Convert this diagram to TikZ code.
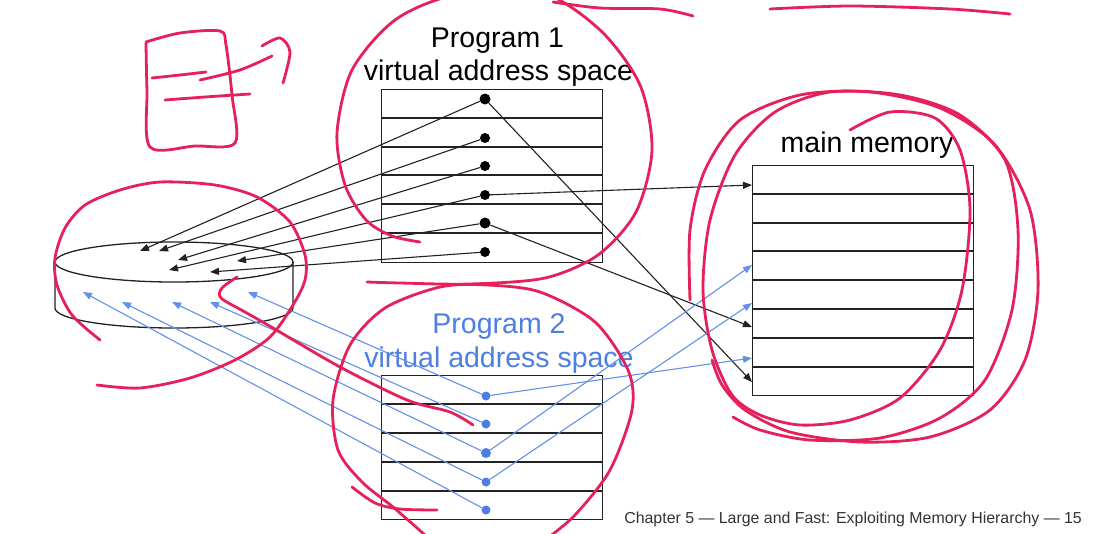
\documentclass[tikz,border=0pt]{standalone}
\usepackage{fontspec}
\setmainfont{Liberation Sans}
\usetikzlibrary{arrows.meta}
\definecolor{ink}{HTML}{222222}
\definecolor{progblue}{HTML}{4D7FE3}
\definecolor{linkblue}{HTML}{6391EA}
\definecolor{redink}{HTML}{E5205A}
\definecolor{foot}{HTML}{333333}

\begin{document}
\begin{tikzpicture}[x=1pt,y=-1pt,
  box/.style={draw=ink, line width=1.3pt, inner sep=0pt, anchor=north west},
  rowline/.style={draw=ink, line width=1.3pt},
  dotb/.style={circle, fill=black, inner sep=0pt, minimum size=10pt},
  dotu/.style={circle, fill=progblue, inner sep=0pt, minimum size=9pt},
  blk/.style={draw=ink, line width=1.1pt, -{Triangle[length=9pt,width=7pt]}},
  blu/.style={draw=linkblue, line width=1.1pt, -{Triangle[length=9pt,width=7pt]}},
  title/.style={font=\fontsize{28.5}{30}\selectfont, anchor=base, inner sep=0pt},
  scribble/.style={draw=redink, line width=2.8pt, line cap=round, line join=round},
]
\clip (0,0) rectangle (1099,533);
\fill[white] (0,0) rectangle (1099,533);

% ---- Program 1 page table ----
\node[box, minimum width=221pt, minimum height=173pt] (p1) at (381,89) {};
\foreach \y in {118,147,175,204,233}
  \draw[rowline] (381,\y) -- (602,\y);
\node[dotb, minimum size=11pt] (a1) at (485,99) {};
\node[dotb] (a2) at (485,138) {};
\node[dotb] (a3) at (485,166) {};
\node[dotb] (a4) at (485,195) {};
\node[dotb, minimum size=11pt] (a5) at (485,223) {};
\node[dotb] (a6) at (485,252) {};

% ---- Program 2 page table ----
\node[box, minimum width=221pt, minimum height=144pt] (p2) at (381,375) {};
\foreach \y in {404,433,462,491}
  \draw[rowline] (381,\y) -- (602,\y);
\node[dotu] (b1) at (486,396) {};
\node[dotu] (b2) at (486,424) {};
\node[dotu, minimum size=10pt] (b3) at (486,453) {};
\node[dotu] (b4) at (486,482) {};
\node[dotu] (b5) at (486,510) {};

% ---- main memory ----
\node[box, minimum width=221pt, minimum height=230pt] (mm) at (752,165) {};
\foreach \y in {194,223,251,280,309,338,367}
  \draw[rowline] (752,\y) -- (973,\y);

% ---- disk ----
\draw[ink, line width=1.3pt] (174,262) ellipse [x radius=119pt, y radius=20pt];
\draw[ink, line width=1.3pt] (55,262) -- (55,308)
  arc[start angle=180, end angle=360, x radius=119pt, y radius=20pt] -- (293,262);

% ---- labels ----
\node[title] (p1t) at (497.5,47) {Program 1};
\node[title] (p1v) at (498.5,80) {virtual address space};
\node[title] (mmt) at (867,152) {main memory};
\node[title, text=progblue] (p2t) at (499,333) {Program 2};
\node[title, text=progblue] (p2v) at (499,367) {virtual address space};
\node[anchor=base east, font=\fontsize{15.9}{18}\selectfont, text=foot, inner sep=0pt]
  (foot) at (1082,523) {Chapter 5 — Large and Fast: Exploiting Memory Hierarchy — 15};

% ---- arrow targets ----
\coordinate (dA) at (140,251);
\coordinate (dB) at (159,251);
\coordinate (dC) at (178,260);
\coordinate (dD) at (237,261);
\coordinate (dE) at (169,270);
\coordinate (dF) at (210,272);
\coordinate (eA) at (83,292);
\coordinate (eB) at (122,302);
\coordinate (eC) at (172,302);
\coordinate (eD) at (210,302);
\coordinate (eE) at (248,292);
\coordinate (m1) at (752,185);
\coordinate (m4) at (752,265);
\coordinate (m5) at (752,303);
\coordinate (m6) at (752,327);
\coordinate (m7) at (752,358);
\coordinate (m8) at (752,382);

% ---- Program 1 mappings ----
\draw[blk] (a1) -- (dA);
\draw[blk] (a2) -- (dB);
\draw[blk] (a3) -- (dC);
\draw[blk] (a4) -- (dE);
\draw[blk] (a5) -- (dD);
\draw[blk] (a6) -- (dF);
\draw[blk] (a1) -- (m8);
\draw[blk] (a4) -- (m1);
\draw[blk] (a5) -- (m6);

% ---- Program 2 mappings ----
\draw[blu] (b1) -- (eE);
\draw[blu] (b2) -- (eD);
\draw[blu] (b3) -- (eC);
\draw[blu] (b4) -- (eB);
\draw[blu] (b5) -- (eA);
\draw[blu] (b1) -- (m7);
\draw[blu] (b3) -- (m4);
\draw[blu] (b4) -- (m5);

% ---- hand-drawn marks ----
% small box sketch with arrow, top left
\draw[scribble] plot[smooth, tension=0.5] coordinates
  {(146,43) (147,90) (150,147) (195,146) (235,143) (232,95) (226,45) (220,31) (180,33) (146,42)};
\draw[scribble] plot[smooth] coordinates {(152,78) (180,75) (206,72)};
\draw[scribble] plot[smooth] coordinates {(200,80) (240,70) (272,56)};
\draw[scribble] plot[smooth] coordinates {(262,46) (280,38) (290,52) (283,83)};
\draw[scribble] plot[smooth] coordinates {(165,100) (205,97) (250,94)};
% strokes along the top edge
\draw[scribble] plot[smooth] coordinates {(553,2) (600,8) (660,9) (693,16)};
\draw[scribble] plot[smooth] coordinates {(770,9) (850,6) (950,9) (1010,14)};
% loop around Program 1
\draw[scribble] plot[smooth] coordinates
  {(420,242) (392,236) (366,220) (345,185) (337,133) (352,70) (395,20) (455,-5)
   (540,-8) (600,30) (640,85) (652,150) (636,212) (598,255) (545,278) (470,284) (400,283) (367,282)};
% loop around Program 2
\draw[scribble] plot[smooth] coordinates
  {(545,540) (575,515) (610,470) (632,410) (628,370) (595,322) (540,292) (487,285)
   (440,287) (385,308) (350,345) (333,400) (338,450) (362,482) (393,507) (425,535)};
\draw[scribble] plot[smooth] coordinates
  {(237,277) (222,288) (221,298) (245,312) (273,328) (340,367) (407,400) (450,412) (473,425)};
\draw[scribble] plot[smooth] coordinates {(352,487) (375,503) (400,509) (437,510)};
% loop around the disk
\draw[scribble] plot[smooth] coordinates
  {(100,340) (72,315) (57,285) (55,258) (65,228) (85,205) (120,190) (160,182) (215,185)
   (257,197) (290,222) (305,255) (305,280) (293,305) (270,337) (235,360) (190,378) (140,388) (97,385)};
% loops around main memory
\draw[scribble] plot[smooth] coordinates
  {(850,130) (890,112) (935,118) (960,150) (970,210) (962,290) (940,350) (900,398) (850,420)
   (800,425) (760,415) (732,395) (712,350) (703,290) (710,220) (735,155) (775,112) (830,92)
   (900,95) (960,115) (1005,160) (1018,230) (1012,310) (985,380) (940,418) (880,438) (810,440)
   (760,430) (733,417)};
\draw[scribble] plot[smooth] coordinates
  {(690,300) (690,230) (705,170) (740,120) (800,95) (870,92) (940,108) (995,145) (1030,210)
   (1038,290) (1025,360) (990,410) (930,437) (860,442) (790,432) (745,410) (722,385) (712,360)};
\end{tikzpicture}
\end{document}
